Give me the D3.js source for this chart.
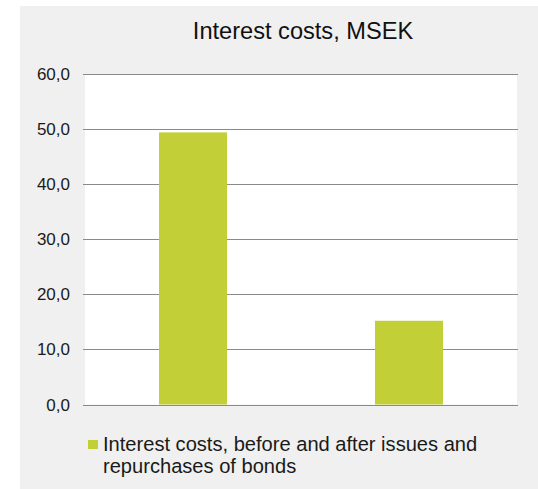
<!DOCTYPE html>
<html>
<head>
<meta charset="utf-8">
<script src="https://cdn.jsdelivr.net/npm/d3@7"></script>
<style>
  body { margin: 0; background: #fff; }
  svg { display: block; font-family: "Liberation Sans", Arial, sans-serif; }
</style>
</head>
<body>
<div id="vis"></div>
<script>
var WIDTH = 538
var HEIGHT = 489

// data
var categories = ['Before', 'After'];
var values = [49.4, 15.2];
var yTicks = [0, 10, 20, 30, 40, 50, 60];
var title = 'Interest costs, MSEK';
var legendLines = ['Interest costs, before and after issues and', 'repurchases of bonds'];

var plot = { left: 85, right: 517, top: 74, bottom: 404.5 };

const svg = d3.select('#vis').append('svg')
    .attr('width', WIDTH)
    .attr('height', HEIGHT)

// outer grey panel
svg.append('rect')
    .attr('x', 20).attr('y', 6)
    .attr('width', WIDTH - 20).attr('height', HEIGHT - 6)
    .attr('fill', '#f0f0f0');

// plot area
svg.append('rect')
    .attr('x', plot.left).attr('y', plot.top)
    .attr('width', plot.right - plot.left).attr('height', plot.bottom - plot.top)
    .attr('fill', '#ffffff');

var x = d3.scaleBand()
    .domain(categories)
    .range([plot.left, plot.right])
    .paddingInner(0.685)
    .paddingOuter(0.3425);

var y = d3.scaleLinear()
    .domain([0, 60])
    .range([plot.bottom, plot.top]);

// gridlines + labels
var grid = svg.append('g');
grid.selectAll('line')
    .data(yTicks)
    .enter()
    .append('line')
    .attr('x1', plot.left - 2)
    .attr('x2', plot.right + 1)
    .attr('y1', d => Math.round(y(d)) + 0.5)
    .attr('y2', d => Math.round(y(d)) + 0.5)
    .attr('stroke', '#8a8a8a')
    .attr('stroke-width', 1);

grid.selectAll('text')
    .data(yTicks)
    .enter()
    .append('text')
    .attr('x', 70)
    .attr('y', d => y(d) + 6)
    .attr('text-anchor', 'end')
    .attr('font-size', 17)
    .attr('fill', '#1a1a1a')
    .text(d => d3.format('.1f')(d).replace('.', ','));

// bars
svg.selectAll('rect.bar')
    .data(values)
    .enter()
    .append('rect')
    .attr('class', 'bar')
    .attr('x', (d, i) => x(categories[i]))
    .attr('width', x.bandwidth())
    .attr('y', d => y(d))
    .attr('height', d => plot.bottom - y(d))
    .attr('fill', '#c3cf36');

// title
svg.append('text')
    .attr('x', 303)
    .attr('y', 39)
    .attr('text-anchor', 'middle')
    .attr('font-size', 23.6)
    .attr('fill', '#111')
    .text(title);

// legend
svg.append('rect')
    .attr('x', 88).attr('y', 440)
    .attr('width', 10).attr('height', 9)
    .attr('fill', '#c3cf36');

svg.selectAll('text.legend')
    .data(legendLines)
    .enter()
    .append('text')
    .attr('class', 'legend')
    .attr('x', 103)
    .attr('y', (d, i) => 451 + i * 22)
    .attr('font-size', 20.1)
    .attr('fill', '#1a1a1a')
    .text(d => d);
</script>
</body>
</html>
